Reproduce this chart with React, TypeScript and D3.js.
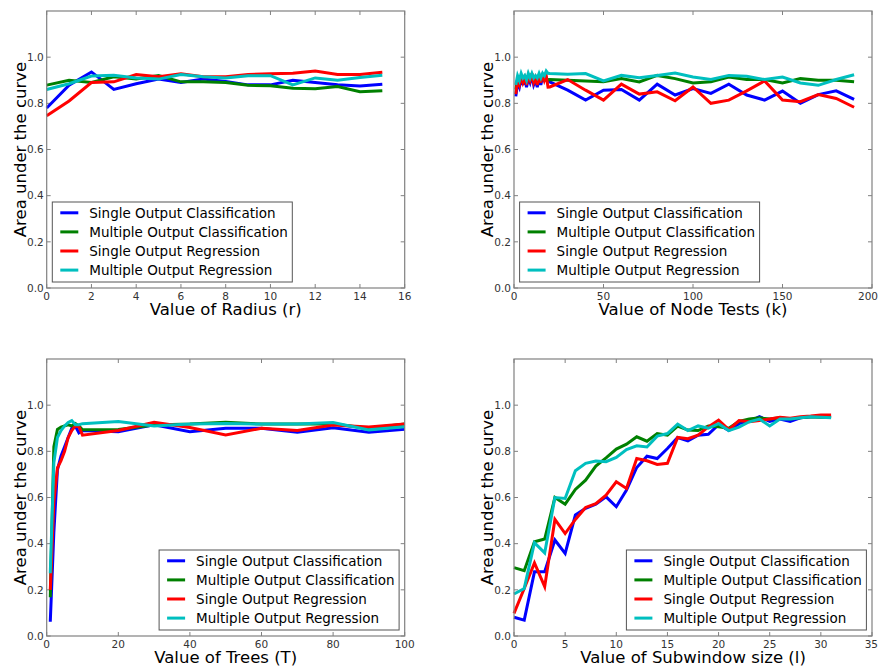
import { useEffect, useRef } from 'react';
import * as d3 from 'd3';

const seriesNames = [
  'Single Output Classification',
  'Multiple Output Classification',
  'Single Output Regression',
  'Multiple Output Regression',
];
const seriesColors = ['#0000ff', '#008000', '#ff0000', '#00bfbf'];

// Panel 1: radius
const radiusX = [0, 1, 2, 3, 4, 5, 6, 7, 8, 9, 10, 11, 12, 13, 14, 15];
const radiusSOC = [0.78, 0.879, 0.936, 0.86, 0.885, 0.905, 0.89, 0.905, 0.895, 0.88, 0.88, 0.9, 0.89, 0.88, 0.875, 0.883];
const radiusMOC = [0.879, 0.9, 0.89, 0.915, 0.905, 0.92, 0.893, 0.893, 0.89, 0.878, 0.876, 0.865, 0.863, 0.873, 0.85, 0.855];
const radiusSOR = [0.746, 0.81, 0.89, 0.893, 0.925, 0.915, 0.928, 0.915, 0.915, 0.925, 0.928, 0.93, 0.94, 0.925, 0.925, 0.935];
const radiusMOR = [0.86, 0.885, 0.918, 0.922, 0.91, 0.905, 0.925, 0.915, 0.91, 0.92, 0.92, 0.88, 0.91, 0.9, 0.912, 0.922];

// Panel 2: node tests
const nodeX = [1, 2, 3, 4, 5, 6, 7, 8, 9, 10, 11, 12, 13, 14, 15, 16, 17, 18, 19,
  20, 30, 40, 50, 60, 70, 80, 90, 100, 110, 120, 130, 140, 150, 160, 170, 180, 190];
const nodeSOC = [0.83, 0.89, 0.87, 0.91, 0.88, 0.92, 0.87, 0.91, 0.89, 0.92, 0.88, 0.9, 0.87, 0.91, 0.88, 0.92, 0.9, 0.91, 0.9,
  0.893, 0.857, 0.814, 0.857, 0.86, 0.814, 0.883, 0.836, 0.864, 0.843, 0.883, 0.836, 0.814, 0.853, 0.8, 0.838, 0.854, 0.817];
const nodeMOC = [0.86, 0.9, 0.89, 0.91, 0.9, 0.91, 0.9, 0.92, 0.9, 0.91, 0.9, 0.91, 0.9, 0.92, 0.9, 0.91, 0.9, 0.91, 0.9,
  0.903, 0.9, 0.897, 0.893, 0.907, 0.893, 0.921, 0.907, 0.888, 0.893, 0.914, 0.903, 0.903, 0.888, 0.907, 0.9, 0.9, 0.893];
const nodeSOR = [0.84, 0.9, 0.88, 0.92, 0.89, 0.91, 0.88, 0.92, 0.9, 0.93, 0.89, 0.91, 0.88, 0.92, 0.89, 0.93, 0.9, 0.92, 0.87,
  0.871, 0.903, 0.857, 0.814, 0.883, 0.84, 0.85, 0.811, 0.871, 0.8, 0.814, 0.854, 0.897, 0.814, 0.807, 0.838, 0.821, 0.783];
const nodeMOR = [0.88, 0.92, 0.9, 0.93, 0.91, 0.92, 0.9, 0.93, 0.91, 0.93, 0.91, 0.92, 0.91, 0.93, 0.91, 0.93, 0.92, 0.94, 0.93,
  0.929, 0.926, 0.929, 0.897, 0.921, 0.911, 0.921, 0.931, 0.914, 0.903, 0.921, 0.917, 0.903, 0.914, 0.888, 0.878, 0.903, 0.924];

// Panel 3: trees
const treesX = [1, 2, 3, 4, 5, 6, 7, 8, 9, 10, 20, 30, 40, 50, 60, 70, 80, 90, 100];
const treesSOC = [0.062, 0.45, 0.72, 0.78, 0.82, 0.86, 0.9, 0.91, 0.88, 0.89, 0.885, 0.915, 0.885, 0.9, 0.9, 0.883, 0.902, 0.883, 0.896];
const treesMOC = [0.168, 0.82, 0.895, 0.905, 0.91, 0.915, 0.91, 0.92, 0.91, 0.893, 0.895, 0.914, 0.918, 0.926, 0.918, 0.918, 0.918, 0.9, 0.918];
const treesSOR = [0.2, 0.58, 0.728, 0.76, 0.8, 0.86, 0.89, 0.91, 0.907, 0.87, 0.89, 0.926, 0.903, 0.871, 0.9, 0.89, 0.914, 0.905, 0.918];
const treesMOR = [0.272, 0.75, 0.86, 0.89, 0.91, 0.925, 0.933, 0.915, 0.915, 0.92, 0.929, 0.91, 0.918, 0.921, 0.918, 0.918, 0.925, 0.893, 0.907];

// Panel 4: subwindow size
const subX = [0, 1, 2, 3, 4, 5, 6, 7, 8, 9, 10, 11, 12, 13, 14, 15, 16, 17, 18, 19, 20, 21, 22, 23, 24, 25, 26, 27, 28, 29, 30, 31];
const subSOC = [0.081, 0.069, 0.278, 0.278, 0.416, 0.358, 0.524, 0.553, 0.571, 0.603, 0.56, 0.632, 0.73, 0.779, 0.769, 0.812,
  0.86, 0.845, 0.87, 0.874, 0.916, 0.89, 0.92, 0.93, 0.95, 0.93, 0.94, 0.93, 0.945, 0.95, 0.95, 0.95];
const subMOC = [0.296, 0.283, 0.408, 0.42, 0.6, 0.571, 0.635, 0.675, 0.736, 0.772, 0.81, 0.831, 0.863, 0.844, 0.877, 0.87,
  0.909, 0.892, 0.89, 0.91, 0.906, 0.9, 0.93, 0.94, 0.945, 0.94, 0.945, 0.94, 0.945, 0.95, 0.948, 0.948];
const subSOR = [0.098, 0.206, 0.317, 0.214, 0.505, 0.444, 0.505, 0.557, 0.573, 0.61, 0.668, 0.639, 0.769, 0.759, 0.743, 0.748,
  0.86, 0.855, 0.87, 0.906, 0.935, 0.894, 0.933, 0.928, 0.933, 0.94, 0.948, 0.943, 0.95, 0.953, 0.957, 0.957];
const subMOR = [0.182, 0.206, 0.404, 0.36, 0.6, 0.596, 0.716, 0.748, 0.758, 0.755, 0.774, 0.808, 0.824, 0.819, 0.866, 0.877,
  0.918, 0.89, 0.91, 0.9, 0.92, 0.89, 0.905, 0.928, 0.94, 0.91, 0.94, 0.94, 0.945, 0.95, 0.948, 0.945];

const yTicks = [0, 0.2, 0.4, 0.6, 0.8, 1.0];

const panels = [
  { col: 0, row: 0, x: radiusX, series: [radiusSOC, radiusMOC, radiusSOR, radiusMOR], xMax: 16,
    xTicks: [0, 2, 4, 6, 8, 10, 12, 14, 16], xLabel: 'Value of Radius (r)', legend: 'left' },
  { col: 1, row: 0, x: nodeX, series: [nodeSOC, nodeMOC, nodeSOR, nodeMOR], xMax: 200,
    xTicks: [0, 50, 100, 150, 200], xLabel: 'Value of Node Tests (k)', legend: 'left' },
  { col: 0, row: 1, x: treesX, series: [treesSOC, treesMOC, treesSOR, treesMOR], xMax: 100,
    xTicks: [0, 20, 40, 60, 80, 100], xLabel: 'Value of Trees (T)', legend: 'right' },
  { col: 1, row: 1, x: subX, series: [subSOC, subMOC, subSOR, subMOR], xMax: 35,
    xTicks: [0, 5, 10, 15, 20, 25, 30, 35], xLabel: 'Value of Subwindow size (l)', legend: 'right' },
];

const W = 879;
const H = 671;
const colLeft = [46.7, 514];
const rowTop = [11, 359];
const plotW = 358;
const plotH = 277;
const font = 'DejaVu Sans, sans-serif';
const frameColor = '#808080';

const App = () => {
  const svgRef = useRef(null);

  useEffect(() => {
    const svg = d3.select(svgRef.current);
    svg.selectAll('*').remove();

    svg.append('rect').attr('width', W).attr('height', H).attr('fill', '#fff');

    panels.forEach(p => {
      const left = colLeft[p.col];
      const g = svg
        .append('g')
        .attr('transform', `translate(${left},${rowTop[p.row]})`);

      const x = d3.scaleLinear().domain([0, p.xMax]).range([0, plotW]);
      const y = d3.scaleLinear().domain([0, 1.2]).range([plotH, 0]);

      // ticks, inward on all four sides
      p.xTicks.forEach(t => {
        g.append('line').attr('x1', x(t)).attr('x2', x(t)).attr('y1', plotH).attr('y2', plotH - 4)
          .attr('stroke', frameColor);
        g.append('line').attr('x1', x(t)).attr('x2', x(t)).attr('y1', 0).attr('y2', 4)
          .attr('stroke', frameColor);
        const label = g.append('text')
          .attr('x', x(t)).attr('y', plotH + 11.5)
          .attr('text-anchor', 'middle')
          .style('font-family', font).style('font-size', '10.5px').style('fill', '#333')
          .text(t);
        // keep the last label inside the page edge
        const half = String(t).length * 3.35;
        if (left + x(t) + half > W - 1) {
          label.attr('text-anchor', 'end').attr('x', W - 1 - left);
        }
      });
      yTicks.forEach(t => {
        g.append('line').attr('x1', 0).attr('x2', 4).attr('y1', y(t)).attr('y2', y(t))
          .attr('stroke', frameColor);
        g.append('line').attr('x1', plotW).attr('x2', plotW - 4).attr('y1', y(t)).attr('y2', y(t))
          .attr('stroke', frameColor);
        g.append('text')
          .attr('x', -3).attr('y', y(t) + 3.8)
          .attr('text-anchor', 'end')
          .style('font-family', font).style('font-size', '10.5px').style('fill', '#333')
          .text(d3.format('.1f')(t));
      });

      // lines
      const line = d3.line().x(d => x(d[0])).y(d => y(d[1]));
      p.series.forEach((vals, i) => {
        g.append('path')
          .datum(vals.map((v, j) => [p.x[j], v]))
          .attr('d', line)
          .attr('fill', 'none')
          .attr('stroke', seriesColors[i])
          .attr('stroke-width', 3)
          .attr('stroke-linejoin', 'miter');
      });

      // frame
      g.append('rect').attr('width', plotW).attr('height', plotH)
        .attr('fill', 'none').attr('stroke', frameColor).attr('stroke-width', 1.2);

      // axis labels
      g.append('text')
        .attr('x', plotW / 2).attr('y', plotH + 27)
        .attr('text-anchor', 'middle')
        .style('font-family', font).style('font-size', '16.5px').style('fill', '#000')
        .text(p.xLabel);
      g.append('text')
        .attr('transform', `translate(${-21},${plotH / 2}) rotate(-90)`)
        .attr('text-anchor', 'middle')
        .style('font-family', font).style('font-size', '16.5px').style('fill', '#000')
        .text('Area under the curve');

      // legend
      const lw = 240;
      const lh = 80;
      const lx = p.legend === 'left' ? 5.6 : plotW - 5.6 - lw;
      const ly = plotH - 6 - lh;
      const lg = g.append('g').attr('transform', `translate(${lx},${ly})`);
      lg.append('rect').attr('width', lw).attr('height', lh)
        .attr('fill', '#fff').attr('stroke', '#555').attr('stroke-width', 1);
      seriesNames.forEach((name, i) => {
        const cy = 10.8 + i * 19.1;
        lg.append('line').attr('x1', 8).attr('x2', 26).attr('y1', cy).attr('y2', cy)
          .attr('stroke', seriesColors[i]).attr('stroke-width', 3);
        lg.append('text')
          .attr('x', 37).attr('y', cy + 5)
          .style('font-family', font).style('font-size', '13.5px').style('fill', '#000')
          .text(name);
      });
    });
  }, []);

  return (
    <svg
      ref={svgRef}
      width={W}
      height={H}
      style={{ position: 'absolute', left: 0, top: 0 }}
    />
  );
};

export default App;
